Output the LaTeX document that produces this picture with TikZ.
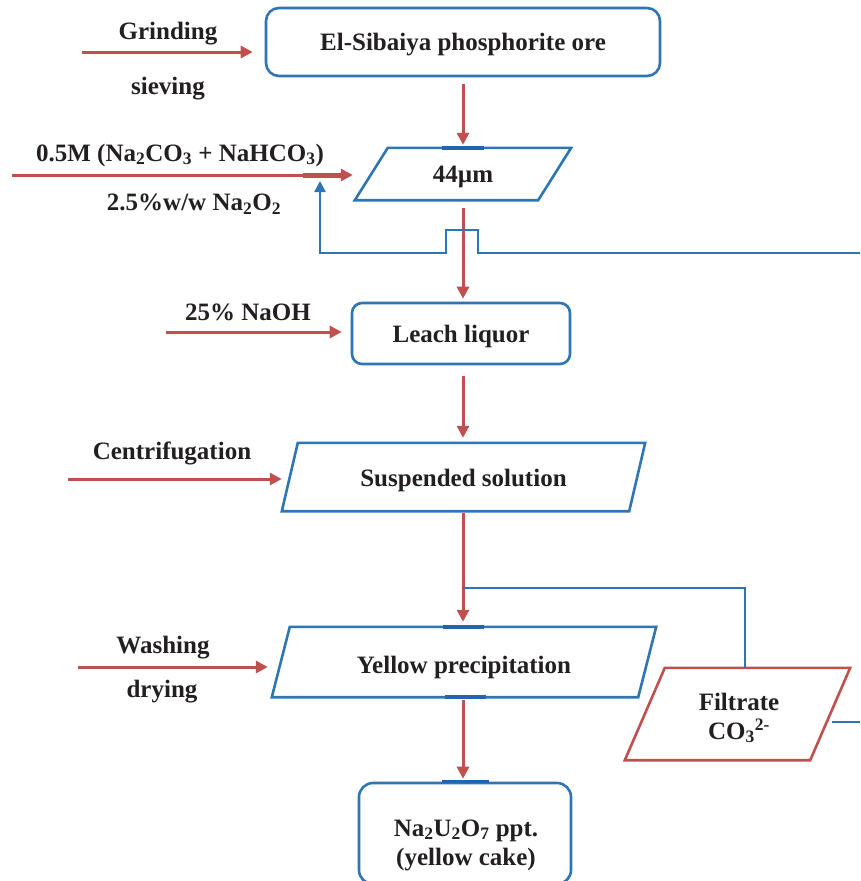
\documentclass[tikz,border=0pt]{standalone}
\usepackage{fontspec}
\setmainfont{Liberation Serif}
\usetikzlibrary{arrows.meta,calc}
\definecolor{fred}{RGB}{192,80,77}
\definecolor{fblue}{RGB}{46,117,182}
\definecolor{fdblue}{RGB}{35,100,175}
\definecolor{ftext}{RGB}{35,31,32}
\newcommand{\dn}[2][3pt]{\raisebox{-#1}[\height][\depth]{#2}}
\begin{document}
\begin{tikzpicture}[x=1pt,y=-1pt,
  every node/.style={font=\fontsize{25}{29}\selectfont\bfseries, text=ftext, inner sep=0pt, align=center},
  rbox/.style={draw=fblue, line width=2.6pt, rounded corners=13pt},
  pshape/.style={draw=none},
  pblue/.style={draw=fblue, line width=2.6pt, line join=miter},
  pred/.style={draw=fred, line width=2.6pt, line join=miter},
  redarrow/.style={draw=fred, line width=3pt, -{Triangle[length=12pt,width=12pt]}},
  bluearrow/.style={draw=fblue, line width=2.5pt, -{Triangle[length=11pt,width=11pt]}},
  blueline/.style={draw=fblue, line width=2.5pt},
  marker/.style={draw=fdblue, line width=3.5pt}]
\useasboundingbox (0,0) rectangle (860,881);
\clip (0,0) rectangle (860,881);

% main chain
\node[rbox, minimum width=394pt, minimum height=68pt] (sib) at (463,42) {\dn{El-Sibaiya phosphorite ore}};
\node[pshape, minimum width=216pt, minimum height=52pt] (p44) at (463,174) {\dn{44µm}};
\draw[pblue] ([xshift=33pt]p44.north west) -- (p44.north east) -- ([xshift=-33pt]p44.south east) -- (p44.south west) -- cycle;
\node[rbox, rounded corners=10pt, minimum width=218pt, minimum height=61pt] (leach) at (461,333.5) {\dn{Leach liquor}};
\node[pshape, minimum width=363pt, minimum height=68pt] (susp) at (463.5,477) {\dn{Suspended solution}};
\draw[pblue] ([xshift=16pt]susp.north west) -- (susp.north east) -- ([xshift=-16pt]susp.south east) -- (susp.south west) -- cycle;
\node[pshape, minimum width=384pt, minimum height=70pt] (yel) at (464,662) {\dn[5pt]{Yellow precipitation}};
\draw[pblue] ([xshift=18pt]yel.north west) -- (yel.north east) -- ([xshift=-18pt]yel.south east) -- (yel.south west) -- cycle;
\node[rbox, rounded corners=14pt, minimum width=212pt, minimum height=101pt] (cake) at (465,833.5) {};
\node (caketxt) at (466,845) {Na\textsubscript{2}U\textsubscript{2}O\textsubscript{7} ppt.\\(yellow cake)};
\node[pshape, minimum width=225pt, minimum height=92pt] (filt) at (737.5,714) {};
\node (filttxt) at (739,718) {Filtrate\\CO\textsubscript{3}\textsuperscript{2-}};
\draw[pred] ([xshift=40pt]filt.north west) -- (filt.north east) -- ([xshift=-40pt]filt.south east) -- (filt.south west) -- cycle;

% side labels
\node (tgrind) at (168,34) {Grinding};
\node (tsieve) at (168,89) {sieving};
\node (tna) at (180,155) {0.5M (Na\textsubscript{2}CO\textsubscript{3} + NaHCO\textsubscript{3})};
\node (tperox) at (194,204) {2.5\%w/w Na\textsubscript{2}O\textsubscript{2}};
\node (tnaoh) at (248,312) {25\% NaOH};
\node (tcent) at (172,453) {Centrifugation};
\node (twash) at (163,648) {Washing};
\node (tdry) at (162,692) {drying};

% side arrows
\coordinate (gstart) at (82,52);
\draw[redarrow, shorten >=12pt] (gstart) -- (gstart -| sib.west);
\coordinate (astart) at (12,175);
\draw[redarrow, shorten >=2pt] (astart) -- (astart -| p44.west);
\draw[draw=fred, line width=5pt] (303,175) -- (343,175);
\coordinate (nstart) at (166,332);
\draw[redarrow, shorten >=9pt] (nstart) -- (nstart -| leach.west);
\coordinate (cstart) at (68,479);
\draw[redarrow] (cstart) -- (cstart -| susp.west);
\coordinate (wstart) at (78,667);
\draw[redarrow, shorten >=4pt] (wstart) -- (wstart -| yel.west);

% vertical arrows
\draw[redarrow, shorten <=7pt, shorten >=3pt] (sib.south) -- (p44.north);
\draw[redarrow, shorten <=8pt, shorten >=3pt] (p44.south) -- (p44.south |- leach.north);
\draw[redarrow, shorten <=11pt, shorten >=5pt] (leach.south -| p44.south) -- (susp.north -| p44.south);
\draw[redarrow, shorten <=2pt, shorten >=5pt] (susp.south -| p44.south) -- (yel.north -| p44.south);
\draw[redarrow, shorten <=3pt, shorten >=3pt] (yel.south -| p44.south) -- (cake.north -| p44.south);

% connection markers
\draw[marker] ([xshift=-21pt]p44.north) -- ([xshift=21pt]p44.north);
\draw[marker] ([xshift=-20pt]yel.north -| p44.north) -- ([xshift=21pt]yel.north -| p44.north);
\draw[marker] ([xshift=-18pt]yel.south -| p44.north) -- ([xshift=23pt]yel.south -| p44.north);
\draw[marker] ([xshift=-21pt]cake.north -| p44.north) -- ([xshift=26pt]cake.north -| p44.north);

% recycle line with bridge
\coordinate (recR) at (860,253);
\coordinate (recL) at (320,181);
\draw[bluearrow] (recR) -- (478,253) -- (478,230) -- (446,230) -- (446,253) -- (recL |- recR) -- (recL);

% filtrate branch
\coordinate (branch) at (463,588);
\draw[blueline] (branch) -| ([xshift=7.5pt]filt.north);
\coordinate (fout) at (860,722);
\draw[blueline] (832,722) -- (fout);
\end{tikzpicture}
\end{document}
